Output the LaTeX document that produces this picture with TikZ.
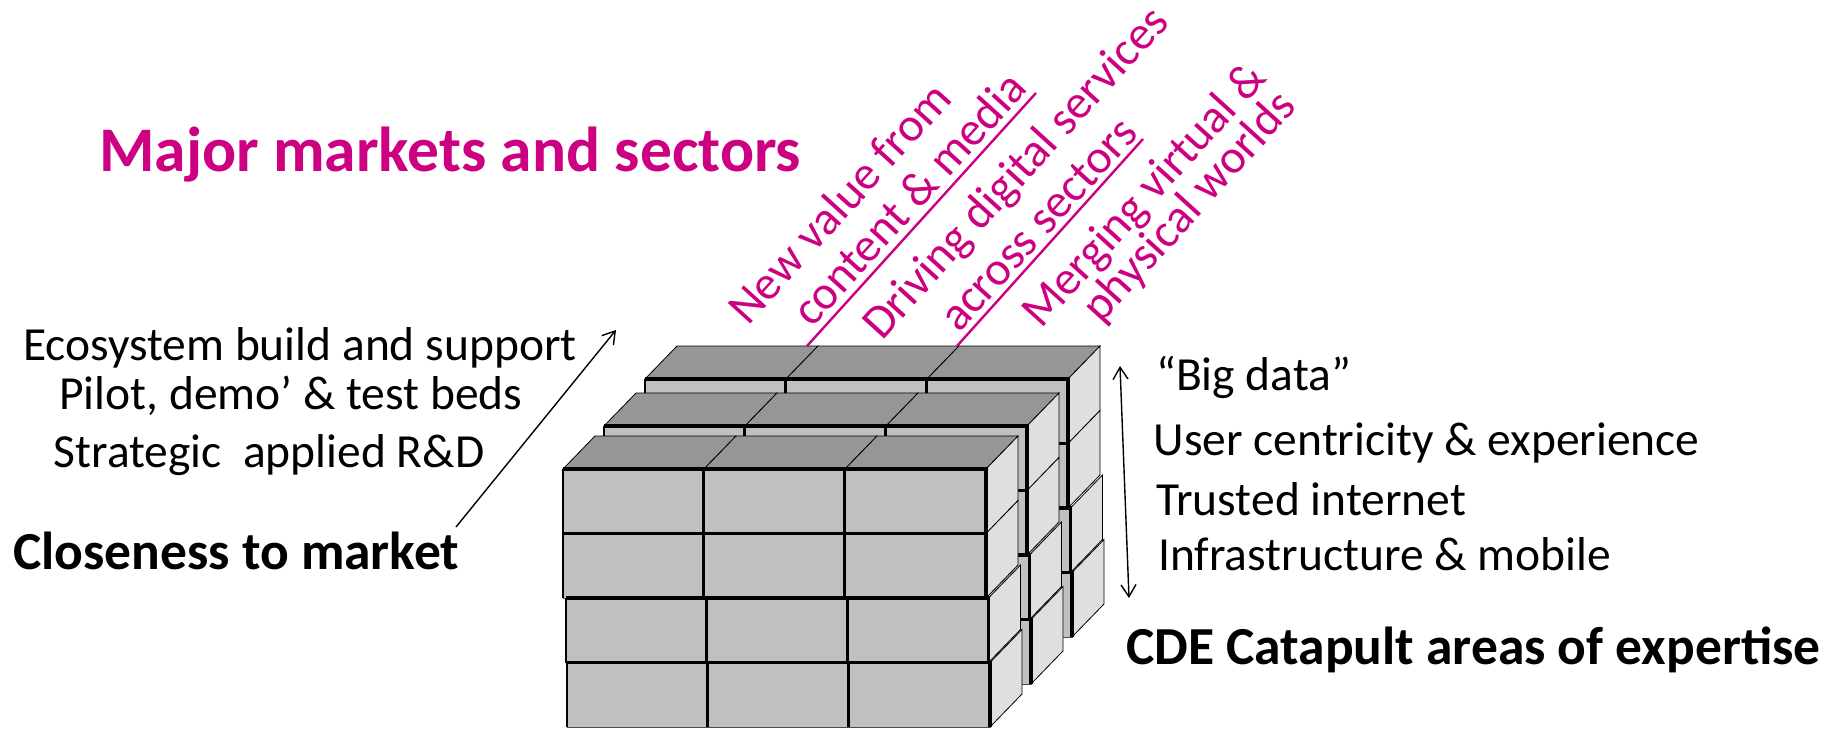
\documentclass[tikz,border=0pt]{standalone}
\usepackage{fontspec}
\setmainfont{Carlito}
\usetikzlibrary{arrows.meta}

\definecolor{topgray}{RGB}{150,150,150}
\definecolor{frontgray}{RGB}{192,192,192}
\definecolor{sidegray}{RGB}{223,223,223}
\definecolor{sectorpink}{RGB}{204,0,128}

\begin{document}
\begin{tikzpicture}[x=1pt,y=-1pt,
    topface/.style={fill=topgray,draw=black,line width=0.8pt},
    sideface/.style={fill=sidegray,draw=black,line width=0.8pt},
    frontface/.style={fill=frontgray,draw=black!70,line width=0.8pt},
    heavy/.style={line width=3.2pt},
    lbl/.style={anchor=base west,inner sep=0pt,font=\fontsize{47.5}{50}\selectfont},
    headline/.style={anchor=base west,inner sep=0pt,font=\bfseries\fontsize{53.5}{56}\selectfont},
    sector/.style={anchor=base west,inner sep=0pt,rotate=47.8,text=sectorpink,
      font=\fontsize{47.5}{50}\selectfont},
    leader/.style={sectorpink,line width=2.4pt},
    pointer/.style={line width=1.4pt},
    barb/.tip={Straight Barb[length=12pt,width=15pt]}]

\useasboundingbox[fill=white] (0,0) rectangle (1829,730);

% three slabs of 3x4 blocks, back one first
\foreach \lx/\ly in {645/379,604/426,563/469}{
    \foreach \c in {0,1,2}
        \filldraw[topface] (\lx+141*\c,\ly) -- ++(32,-33) -- ++(141,0) -- ++(-32,33) -- cycle;
    \foreach \r/\s in {0/0,1/0,2/2.5,3/4}{
        \filldraw[sideface] (\lx+\s+423,\ly+64.5*\r) -- ++(32,-33) -- ++(0,64.5) -- ++(-32,33) -- cycle;
        \foreach \c in {0,1,2}{
            \filldraw[frontface] (\lx+\s+141*\c,\ly+64.5*\r) rectangle ++(141,64.5);
            \draw[line width=2pt] (\lx+\s+141*\c,\ly+64.5*\r+64.5) -- ++(0,-64.5);
            \draw[heavy] (\lx+\s+141*\c,\ly+64.5*\r) -- ++(141,0) -- ++(0,64.5);
        }
    }
}

\node[anchor=base west,inner sep=0pt,text=sectorpink,font=\bfseries\fontsize{63.5}{66}\selectfont]
    (title) at (99,172) {Major markets and sectors};

% sectors along the top
\node[sector] (valueA) at (748,327) {New value from};
\node[sector] (valueB) at (812,329) {content \& media};
\node[sector] (drivingA) at (882,342) {Driving digital services};
\node[sector] (drivingB) at (959,334) {across sectors};
\node[sector] (mergingA) at (1041,330) {Merging virtual \&};
\node[sector] (mergingB) at (1101,325) {physical worlds};

\coordinate (lead1) at (807,346);
\coordinate (lead1end) at (1036,93);
\coordinate (lead2) at (957,346);
\coordinate (lead2end) at (1143,139);
\draw[leader] (lead1) -- (lead1end);
\draw[leader] (lead2) -- (lead2end);

% closeness to market
\node[lbl] (ecosys) at (23,360) {Ecosystem build and support};
\node[lbl] (pilot) at (59,409) {Pilot, demo’ \& test beds};
\node[lbl] (strategic) at (53.5,467) {Strategic\ \ applied R\&D};
\node[headline] (closeness) at (13,569) {Closeness to market};

\coordinate (marketlow) at (456,527);
\coordinate (markethigh) at (616,330);
\draw[pointer,-barb] (marketlow) -- (markethigh);

% expertise
\node[lbl] (bigdata) at (1156,390) {“Big data”};
\node[lbl] (usercentric) at (1153.5,455) {User centricity \& experience};
\node[lbl] (trusted) at (1156,515) {Trusted internet};
\node[lbl] (infra) at (1158,570) {Infrastructure \& mobile};
\node[headline] (cde) at (1126,664) {CDE Catapult areas of expertise};

\coordinate (expertlow) at (1129,598);
\coordinate (experthigh) at (1120,366);
\draw[pointer,barb-barb] (expertlow) -- (experthigh);

\end{tikzpicture}
\end{document}
